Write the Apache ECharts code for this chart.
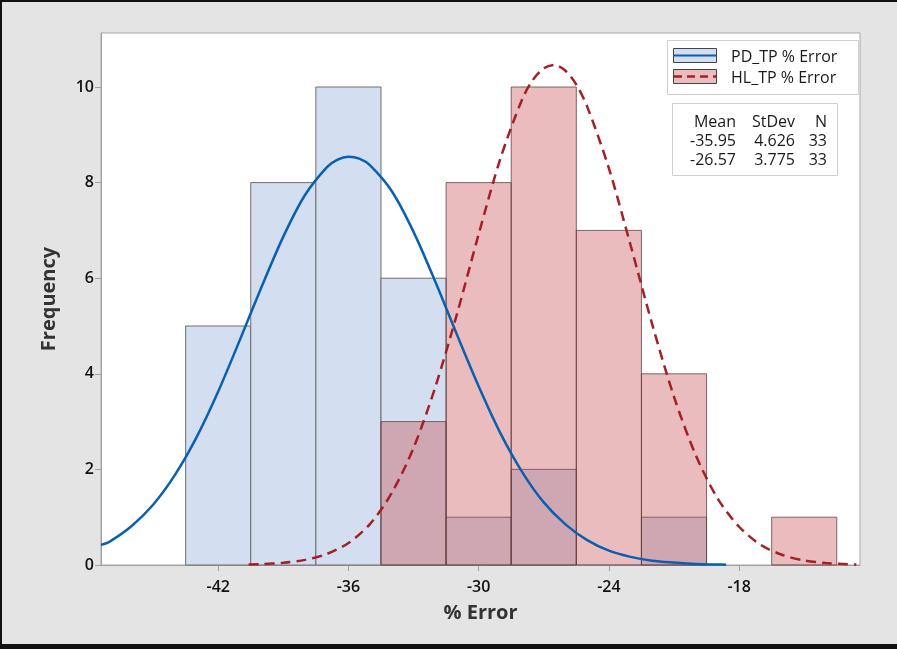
<!DOCTYPE html>
<html><head><meta charset="utf-8">
<script src="https://cdn.jsdelivr.net/npm/echarts@6/dist/echarts.min.js"></script>
<style>html,body{margin:0;padding:0;background:#e4e4e4}#c{width:897px;height:649px}</style>
</head><body><div id="c"></div>
<script>
// Histogram bins (edges) and counts
const binEdges = [-43.5,-40.5,-37.5,-34.5,-31.5,-28.5,-25.5,-22.5,-19.5,-16.5,-13.5];
const pdCounts = [5,8,10,6,1,2,0,1,0,0];
const hlCounts = [0,0,0,3,8,10,7,4,0,1];
// Fitted normal curves
const pdCurveX = [-47.4,-47,-46,-45,-44,-43,-42,-41,-40,-39,-38,-37,-36.5,-36,-35.5,-35,-34,-33,-32,-31,-30,-29,-28,-27,-26,-25,-24,-23,-22,-21,-20,-19,-18.6];
const pdCurveY = [0.42,0.49,0.81,1.26,1.88,2.67,3.63,4.71,5.82,6.87,7.74,8.32,8.48,8.54,8.50,8.36,7.82,6.97,5.93,4.82,3.74,2.76,1.95,1.31,0.85,0.52,0.30,0.17,0.09,0.05,0.02,0.01,0.006];
const hlCurveX = [-40.6,-40,-39,-38,-37,-36,-35,-34,-33,-32,-31,-30,-29,-28,-27.5,-27,-26.5,-26,-25.5,-25,-24,-23,-22,-21,-20,-19,-18,-17,-16,-15,-14,-13,-12.6];
const hlCurveY = [0.012,0.019,0.046,0.107,0.23,0.46,0.86,1.51,2.45,3.72,5.25,6.92,8.50,9.74,10.15,10.39,10.46,10.34,10.05,9.59,8.30,6.69,5.03,3.52,2.30,1.40,0.80,0.42,0.21,0.095,0.041,0.016,0.011];
const xTicks = [-42,-36,-30,-24,-18];
const yTicks = [0,2,4,6,8,10];
const seriesNames = ['PD_TP % Error','HL_TP % Error'];
const statsHeader = ['Mean','StDev','N'];
const statsRows = [['-35.95','4.626','33'],['-26.57','3.775','33']];

const FONT = 'Open Sans';
const chart = echarts.init(document.getElementById('c'));

function barData(counts){
  return counts.map((c,i)=>[binEdges[i], binEdges[i+1], c]);
}
function barRenderer(fill, stroke){
  return function(params, api){
    const x0 = api.value(0), x1 = api.value(1), c = api.value(2);
    if (!(c > 0)) return null;
    const p0 = api.coord([x0, 0]);
    const p1 = api.coord([x1, c]);
    return {type:'rect', shape:{x:p0[0], y:p1[1], width:p1[0]-p0[0], height:p0[1]-p1[1]},
      style:{fill:fill, stroke:stroke, lineWidth:1}};
  };
}
function pts(xs, ys){ return xs.map((x,i)=>[x, ys[i]]); }

const legFont = '16px "'+FONT+'"';
const graphic = [
  // outer black frame
  {type:'rect', z:100, silent:true, shape:{x:0,y:0,width:897,height:2}, style:{fill:'#111'}},
  {type:'rect', z:100, silent:true, shape:{x:0,y:0,width:2,height:649}, style:{fill:'#111'}},
  {type:'rect', z:100, silent:true, shape:{x:0,y:644,width:897,height:5}, style:{fill:'#111'}},
  // legend box
  {type:'rect', z:50, shape:{x:667.5,y:40.5,width:191,height:54}, style:{fill:'#fff', stroke:'#cfcfcf', lineWidth:1}},
  {type:'rect', z:51, shape:{x:673.5,y:48.5,width:43,height:14}, style:{fill:'#d3dff0', stroke:'#444', lineWidth:1}},
  {type:'line', z:52, shape:{x1:674,y1:55.5,x2:716,y2:55.5}, style:{stroke:'#0b5fb0', lineWidth:2}},
  {type:'text', z:52, style:{x:731, y:57, text:seriesNames[0], fill:'#1a1a1a', font:legFont, verticalAlign:'middle', letterSpacing:0.9}},
  {type:'rect', z:51, shape:{x:673.5,y:69.5,width:43,height:14}, style:{fill:'#ebbcbd', stroke:'#444', lineWidth:1}},
  {type:'line', z:52, shape:{x1:674,y1:76.5,x2:716,y2:76.5}, style:{stroke:'#a51f26', lineWidth:2.5, lineDash:[8,5]}},
  {type:'text', z:52, style:{x:731, y:78, text:seriesNames[1], fill:'#1a1a1a', font:legFont, verticalAlign:'middle', letterSpacing:0.9}},
  // stats box
  {type:'rect', z:50, shape:{x:672.5,y:103.5,width:165,height:72}, style:{fill:'#fff', stroke:'#cfcfcf', lineWidth:1}}
];
const colRight = [736, 795, 827];
const rowY = [122, 141, 160];
[statsHeader].concat(statsRows).forEach((row, r)=>{
  row.forEach((t, ci)=>{
    graphic.push({type:'text', z:52, style:{x:colRight[ci], y:rowY[r], text:t, fill:'#1a1a1a',
      font:legFont, align:'right', verticalAlign:'middle', letterSpacing:0.6}});
  });
});

chart.setOption({
  backgroundColor:'#e4e4e4',
  animation:false,
  textStyle:{fontFamily:FONT},
  grid:{left:101, right:37, top:33, bottom:84, show:true, backgroundColor:'#fff', borderColor:'#a8a8a8', borderWidth:1},
  xAxis:{
    type:'value', min:-47.4, max:-12.43,
    name:'% Error', nameLocation:'middle', nameGap:38,
    nameTextStyle:{fontSize:20, fontWeight:'bold', color:'#333', fontFamily:FONT},
    axisLine:{show:true, onZero:false, lineStyle:{color:'#a0a0a0'}},
    axisTick:{show:true, length:6, lineStyle:{color:'#a0a0a0'}, customValues:xTicks},
    axisLabel:{customValues:xTicks, fontSize:16, color:'#111', fontWeight:600, margin:14, fontFamily:FONT},
    splitLine:{show:false}
  },
  yAxis:{
    type:'value', min:0, max:11.13,
    name:'Frequency', nameLocation:'middle', nameGap:42,
    nameTextStyle:{fontSize:20, fontWeight:'bold', color:'#333', fontFamily:FONT},
    axisLine:{show:true, lineStyle:{color:'#a0a0a0'}},
    axisTick:{show:true, length:6, lineStyle:{color:'#a0a0a0'}, customValues:yTicks},
    axisLabel:{customValues:yTicks, fontSize:16, color:'#111', fontWeight:600, margin:7, fontFamily:FONT},
    splitLine:{show:false}
  },
  graphic: graphic,
  series:[
    {type:'custom', name:seriesNames[0], renderItem:barRenderer('#d3dff0','#6e6e6e'),
      encode:{x:[0,1], y:2}, data:barData(pdCounts), z:2},
    {type:'custom', name:seriesNames[1], renderItem:barRenderer('rgba(198,64,66,0.35)','rgba(90,60,60,0.75)'),
      encode:{x:[0,1], y:2}, data:barData(hlCounts), z:3},
    {type:'line', name:seriesNames[0]+' fit', data:pts(pdCurveX,pdCurveY), smooth:0.3, showSymbol:false,
      lineStyle:{color:'#0b5fb0', width:2.5}, z:5},
    {type:'line', name:seriesNames[1]+' fit', data:pts(hlCurveX,hlCurveY), smooth:0.3, showSymbol:false,
      lineStyle:{color:'#a51f26', width:2.5, type:[10,6]}, z:5}
  ]
});
</script></body></html>
